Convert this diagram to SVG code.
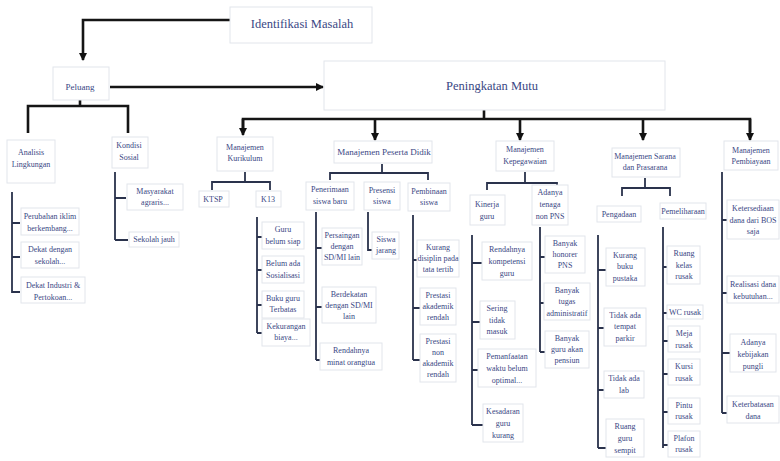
<svg xmlns="http://www.w3.org/2000/svg" width="780" height="461" viewBox="0 0 780 461">
<defs>
<marker id="ah" viewBox="0 0 8 8" refX="7" refY="4" markerWidth="8" markerHeight="8" markerUnits="userSpaceOnUse" orient="auto"><path d="M0,0 L8,4 L0,8 z" fill="#111"/></marker>
<marker id="ahs" viewBox="0 0 8 8" refX="7" refY="4" markerWidth="6" markerHeight="6" markerUnits="userSpaceOnUse" orient="auto"><path d="M0,0 L8,4 L0,8 z" fill="#222"/></marker>
<style>
.box{fill:#fff;stroke:#e2e5eb;stroke-width:1}
.t{font-family:"Liberation Serif","Times New Roman",serif;fill:#3a4784;text-anchor:middle}
.s{font-size:8px}
.m{font-size:9px}
.l{font-size:12.5px}
.c{stroke:#151515;stroke-width:2.6;fill:none}
.c2{stroke:#2a324c;stroke-width:1.8;fill:none}
</style>
</defs>
<rect width="780" height="461" fill="#fff"/>

<g id="connectors">
<path class="c" d="M230,20 H83 V60" marker-end="url(#ah)"/>
<path class="c" d="M110,87 H323" marker-end="url(#ah)"/>
<path class="c" d="M80,100 V106 M28,133 V106 H128 V133"/>
<path class="c" d="M484,110 V119 M243,132 V119 H750 V132"/>
<path class="c" d="M243,119 V135" marker-end="url(#ah)"/>
<path class="c" d="M375,119 V140" marker-end="url(#ah)"/>
<path class="c" d="M520,119 V140" marker-end="url(#ah)"/>
<path class="c" d="M643,119 V140" marker-end="url(#ah)"/>
<path class="c" d="M750,119 V140" marker-end="url(#ah)"/>
<!-- Analisis -->
<path class="c2" d="M12,192 V293 M12,223 H20 M12,257 H20 M12,292 H20"/>
<!-- Kondisi -->
<path class="c2" d="M115,172 V240 M115,198 H126 M115,240 H128"/>
<!-- Kurikulum bracket -->
<path class="c2" d="M245,172 V182 M212,190 V182 H270 V190"/>
<path class="c2" d="M257,217 V333 M257,237 H262 M257,270 H262 M257,305 H262 M257,333 H262"/>
<!-- Peserta Didik bracket -->
<path class="c2" d="M382,164 V173 M330,180 V173 H428 V180"/>
<path class="c2" d="M316,212 V360 M316,248 H322 M316,307 H322 M316,360 H322"/>
<path class="c2" d="M368,212 V250 H373"/>
<path class="c2" d="M413,215 V360 M413,260 H418 M413,308 H420 M413,360 H420"/>
<!-- Kepegawaian bracket -->
<path class="c2" d="M525,172 V183 M487,190 V183 H557 V190"/>
<path class="c2" d="M472,235 V425 M472,263 H482 M472,322 H480 M472,370 H478 M472,425 H483"/>
<path class="c2" d="M540,227 V352 M540,257 H545 M540,303 H545 M540,352 H545"/>
<!-- Sarana bracket -->
<path class="c2" d="M645,178 V188 M622,196 V188 H670 V196"/>
<path class="c2" d="M598,235 V448 M598,270 H606 M598,328 H604 M598,390 H604 M598,448 H606"/>
<path class="c2" d="M663,227 V448 M663,267 H667 M663,313 H667 M663,341 H668 M663,374 H668 M663,412 H668 M663,445 H668"/>
<!-- Pembiayaan -->
<path class="c2" d="M722,172 V413 M722,220 H728 M722,293 H728 M722,353 H730 M722,413 H728"/>
</g>

<g id="identifikasi"><rect class="box" x="230" y="7" width="142" height="36"/><text class="t l" x="302" y="28">Identifikasi Masalah</text></g>
<g id="peluang"><rect class="box" x="53" y="67" width="56" height="33"/><text class="t m" x="80" y="90">Peluang</text></g>
<g id="peningkatan"><rect class="box" x="324" y="61" width="341" height="49"/><text class="t l" x="492" y="90">Peningkatan Mutu</text></g>

<g id="analisis"><rect class="box" x="7" y="140" width="48" height="43"/><text class="t s" x="31" y="155"><tspan x="31">Analisis</tspan><tspan x="31" dy="12">Lingkungan</tspan></text></g>
<g id="a1"><rect class="box" x="21" y="208" width="58" height="27"/><text class="t s" x="50" y="219"><tspan x="50">Perubahan iklim</tspan><tspan x="50" dy="12">berkembang...</tspan></text></g>
<g id="a2"><rect class="box" x="21" y="242" width="58" height="26"/><text class="t s" x="50" y="252"><tspan x="50">Dekat dengan</tspan><tspan x="50" dy="12">sekolah...</tspan></text></g>
<g id="a3"><rect class="box" x="21" y="277" width="64" height="26"/><text class="t s" x="53" y="288"><tspan x="53">Dekat Industri &amp;</tspan><tspan x="53" dy="12">Pertokoan...</tspan></text></g>

<g id="kondisi"><rect class="box" x="112" y="137" width="36" height="31"/><text class="t s" x="129" y="148"><tspan x="129">Kondisi</tspan><tspan x="129" dy="12">Sosial</tspan></text></g>
<g id="k1"><rect class="box" x="127" y="184" width="56" height="26"/><text class="t s" x="155" y="194"><tspan x="155">Masyarakat</tspan><tspan x="155" dy="11">agraris...</tspan></text></g>
<g id="k2"><rect class="box" x="129" y="232" width="50" height="15"/><text class="t s" x="154" y="242">Sekolah jauh</text></g>

<g id="kurikulum"><rect class="box" x="217" y="137" width="56" height="34"/><text class="t s" x="245" y="150"><tspan x="245">Manajemen</tspan><tspan x="245" dy="11">Kurikulum</tspan></text></g>
<g id="ktsp"><rect class="box" x="199" y="191" width="30" height="16"/><text class="t s" x="213" y="202">KTSP</text></g>
<g id="k13"><rect class="box" x="256" y="191" width="25" height="16"/><text class="t s" x="268" y="202">K13</text></g>
<g id="ku1"><rect class="box" x="262" y="222" width="42" height="27"/><text class="t s" x="283" y="232"><tspan x="283">Guru</tspan><tspan x="283" dy="12">belum siap</tspan></text></g>
<g id="ku2"><rect class="box" x="262" y="256" width="42" height="27"/><text class="t s" x="283" y="266"><tspan x="283">Belum ada</tspan><tspan x="283" dy="12">Sosialisasi</tspan></text></g>
<g id="ku3"><rect class="box" x="262" y="291" width="42" height="27"/><text class="t s" x="283" y="301"><tspan x="283">Buku guru</tspan><tspan x="283" dy="11">Terbatas</tspan></text></g>
<g id="ku4"><rect class="box" x="262" y="319" width="48" height="27"/><text class="t s" x="286" y="329"><tspan x="286">Kekurangan</tspan><tspan x="286" dy="11">biaya...</tspan></text></g>

<g id="pesertadidik"><rect class="box" x="334" y="141" width="98" height="22"/><text class="t m" x="384" y="155">Manajemen Peserta Didik</text></g>
<g id="pd1"><rect class="box" x="306" y="182" width="48" height="28"/><text class="t s" x="330" y="192"><tspan x="330">Penerimaan</tspan><tspan x="330" dy="12">siswa baru</tspan></text></g>
<g id="pd2"><rect class="box" x="364" y="182" width="36" height="28"/><text class="t s" x="382" y="193"><tspan x="382">Presensi</tspan><tspan x="382" dy="11">siswa</tspan></text></g>
<g id="pd3"><rect class="box" x="408" y="183" width="42" height="28"/><text class="t s" x="429" y="194"><tspan x="429">Pembinaan</tspan><tspan x="429" dy="11">siswa</tspan></text></g>
<g id="pd1a"><rect class="box" x="322" y="228" width="40" height="37"/><text class="t s" x="342" y="238"><tspan x="342">Persaingan</tspan><tspan x="342" dy="11">dengan</tspan><tspan x="342" dy="11">SD/MI lain</tspan></text></g>
<g id="pd1b"><rect class="box" x="322" y="287" width="54" height="36"/><text class="t s" x="349" y="297"><tspan x="349">Berdekatan</tspan><tspan x="349" dy="11">dengan SD/MI</tspan><tspan x="349" dy="11">lain</tspan></text></g>
<g id="pd1c"><rect class="box" x="320" y="343" width="62" height="27"/><text class="t s" x="351" y="353"><tspan x="351">Rendahnya</tspan><tspan x="351" dy="12">minat orangtua</tspan></text></g>
<g id="pd2a"><rect class="box" x="372" y="232" width="27" height="27"/><text class="t s" x="386" y="242"><tspan x="386">Siswa</tspan><tspan x="386" dy="11">jarang</tspan></text></g>
<g id="pd3a"><rect class="box" x="417" y="240" width="42" height="37"/><text class="t s" x="438" y="250"><tspan x="438">Kurang</tspan><tspan x="438" dy="11">disiplin pada</tspan><tspan x="438" dy="11">tata tertib</tspan></text></g>
<g id="pd3b"><rect class="box" x="420" y="288" width="36" height="37"/><text class="t s" x="438" y="298"><tspan x="438">Prestasi</tspan><tspan x="438" dy="11">akademik</tspan><tspan x="438" dy="11">rendah</tspan></text></g>
<g id="pd3c"><rect class="box" x="420" y="334" width="36" height="48"/><text class="t s" x="438" y="344"><tspan x="438">Prestasi</tspan><tspan x="438" dy="11">non</tspan><tspan x="438" dy="11">akademik</tspan><tspan x="438" dy="11">rendah</tspan></text></g>

<g id="kepegawaian"><rect class="box" x="496" y="141" width="58" height="30"/><text class="t s" x="525" y="152"><tspan x="525">Manajemen</tspan><tspan x="525" dy="12">Kepegawaian</tspan></text></g>
<g id="kp1"><rect class="box" x="470" y="195" width="35" height="30"/><text class="t s" x="487" y="207"><tspan x="487">Kinerja</tspan><tspan x="487" dy="12">guru</tspan></text></g>
<g id="kp2"><rect class="box" x="532" y="185" width="36" height="40"/><text class="t s" x="550" y="195"><tspan x="550">Adanya</tspan><tspan x="550" dy="12">tenaga</tspan><tspan x="550" dy="12">non PNS</tspan></text></g>
<g id="kp1a"><rect class="box" x="482" y="242" width="50" height="38"/><text class="t s" x="507" y="252"><tspan x="507">Rendahnya</tspan><tspan x="507" dy="12">kompetensi</tspan><tspan x="507" dy="12">guru</tspan></text></g>
<g id="kp1b"><rect class="box" x="480" y="301" width="35" height="38"/><text class="t s" x="497" y="311"><tspan x="497">Sering</tspan><tspan x="497" dy="12">tidak</tspan><tspan x="497" dy="11">masuk</tspan></text></g>
<g id="kp1c"><rect class="box" x="478" y="349" width="58" height="38"/><text class="t s" x="507" y="359"><tspan x="507">Pemanfaatan</tspan><tspan x="507" dy="12">waktu belum</tspan><tspan x="507" dy="12">optimal...</tspan></text></g>
<g id="kp1d"><rect class="box" x="483" y="404" width="40" height="38"/><text class="t s" x="503" y="414"><tspan x="503">Kesadaran</tspan><tspan x="503" dy="12">guru</tspan><tspan x="503" dy="12">kurang</tspan></text></g>
<g id="kp2a"><rect class="box" x="545" y="236" width="40" height="37"/><text class="t s" x="565" y="246"><tspan x="565">Banyak</tspan><tspan x="565" dy="11">honorer</tspan><tspan x="565" dy="11">PNS</tspan></text></g>
<g id="kp2b"><rect class="box" x="544" y="283" width="46" height="37"/><text class="t s" x="567" y="293"><tspan x="567">Banyak</tspan><tspan x="567" dy="11">tugas</tspan><tspan x="567" dy="12">administratif</tspan></text></g>
<g id="kp2c"><rect class="box" x="545" y="331" width="44" height="37"/><text class="t s" x="567" y="341"><tspan x="567">Banyak</tspan><tspan x="567" dy="11">guru akan</tspan><tspan x="567" dy="11">pensiun</tspan></text></g>

<g id="sarana"><rect class="box" x="612" y="148" width="68" height="29"/><text class="t s" x="645" y="159"><tspan x="645">Manajemen Sarana</tspan><tspan x="645" dy="11">dan Prasarana</tspan></text></g>
<g id="sp1"><rect class="box" x="597" y="206" width="44" height="16"/><text class="t s" x="619" y="217">Pengadaan</text></g>
<g id="sp2"><rect class="box" x="660" y="203" width="46" height="16"/><text class="t s" x="683" y="214">Pemeliharaan</text></g>
<g id="sp1a"><rect class="box" x="606" y="248" width="39" height="38"/><text class="t s" x="625" y="258"><tspan x="625">Kurang</tspan><tspan x="625" dy="11">buku</tspan><tspan x="625" dy="12">pustaka</tspan></text></g>
<g id="sp1b"><rect class="box" x="604" y="308" width="42" height="38"/><text class="t s" x="625" y="318"><tspan x="625">Tidak ada</tspan><tspan x="625" dy="11">tempat</tspan><tspan x="625" dy="12">parkir</tspan></text></g>
<g id="sp1c"><rect class="box" x="604" y="371" width="40" height="27"/><text class="t s" x="624" y="381"><tspan x="624">Tidak ada</tspan><tspan x="624" dy="12">lab</tspan></text></g>
<g id="sp1d"><rect class="box" x="606" y="419" width="38" height="38"/><text class="t s" x="625" y="429"><tspan x="625">Ruang</tspan><tspan x="625" dy="12">guru</tspan><tspan x="625" dy="12">sempit</tspan></text></g>
<g id="sp2a"><rect class="box" x="667" y="246" width="33" height="38"/><text class="t s" x="684" y="256"><tspan x="684">Ruang</tspan><tspan x="684" dy="12">kelas</tspan><tspan x="684" dy="11">rusak</tspan></text></g>
<g id="sp2b"><rect class="box" x="667" y="305" width="36" height="14"/><text class="t s" x="685" y="315">WC rusak</text></g>
<g id="sp2c"><rect class="box" x="668" y="326" width="32" height="26"/><text class="t s" x="684" y="336"><tspan x="684">Meja</tspan><tspan x="684" dy="12">rusak</tspan></text></g>
<g id="sp2d"><rect class="box" x="668" y="359" width="32" height="26"/><text class="t s" x="684" y="369"><tspan x="684">Kursi</tspan><tspan x="684" dy="12">rusak</tspan></text></g>
<g id="sp2e"><rect class="box" x="668" y="398" width="32" height="26"/><text class="t s" x="684" y="408"><tspan x="684">Pintu</tspan><tspan x="684" dy="11">rusak</tspan></text></g>
<g id="sp2f"><rect class="box" x="668" y="431" width="32" height="26"/><text class="t s" x="684" y="441"><tspan x="684">Plafon</tspan><tspan x="684" dy="11">rusak</tspan></text></g>

<g id="pembiayaan"><rect class="box" x="724" y="141" width="54" height="29"/><text class="t s" x="751" y="153"><tspan x="751">Manajemen</tspan><tspan x="751" dy="11">Pembiayaan</tspan></text></g>
<g id="pb1"><rect class="box" x="727" y="200" width="52" height="39"/><text class="t s" x="753" y="211"><tspan x="753">Ketersediaan</tspan><tspan x="753" dy="12">dana dari BOS</tspan><tspan x="753" dy="11">saja</tspan></text></g>
<g id="pb2"><rect class="box" x="727" y="276" width="52" height="27"/><text class="t s" x="753" y="287"><tspan x="753">Realisasi dana</tspan><tspan x="753" dy="12">kebutuhan...</tspan></text></g>
<g id="pb3"><rect class="box" x="730" y="334" width="46" height="38"/><text class="t s" x="753" y="345"><tspan x="753">Adanya</tspan><tspan x="753" dy="12">kebijakan</tspan><tspan x="753" dy="12">pungli</tspan></text></g>
<g id="pb4"><rect class="box" x="727" y="396" width="52" height="27"/><text class="t s" x="753" y="407"><tspan x="753">Keterbatasan</tspan><tspan x="753" dy="12">dana</tspan></text></g>
</svg>
